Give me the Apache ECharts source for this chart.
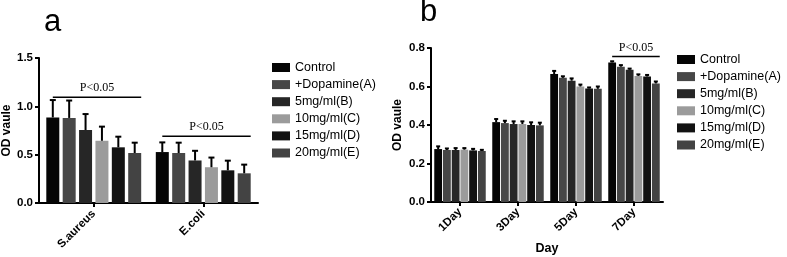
<!DOCTYPE html>
<html>
<head>
<meta charset="utf-8">
<script src="https://cdn.jsdelivr.net/npm/echarts@6/dist/echarts.min.js"></script>
<style>
  html, body { margin: 0; padding: 0; background: #fff; }
  #chart { width: 787px; height: 257px; }
</style>
</head>
<body>
<div id="chart"></div>
<script>
// groups (legend)
const groupNames = ['Control', '+Dopamine(A)', '5mg/ml(B)', '10mg/ml(C)', '15mg/ml(D)', '20mg/ml(E)'];
const groupColors = ['#050505', '#474747', '#262626', '#9b9b9b', '#121212', '#434343'];

// panel a
const bacteria = ['S.aureus', 'E.coli'];
const odA = [
  [0.885, 0.527],
  [0.880, 0.517],
  [0.755, 0.440],
  [0.644, 0.370],
  [0.576, 0.338],
  [0.517, 0.307]
];
const errA = [
  [0.180, 0.100],
  [0.180, 0.107],
  [0.165, 0.100],
  [0.146, 0.100],
  [0.110, 0.100],
  [0.107, 0.090]
];
const sigA = [[0, 1.093], [1, 0.69]];
const ticksA = [0, 0.5, 1.0, 1.5];

// panel b
const days = ['1Day', '3Day', '5Day', '7Day'];
const odB = [
  [0.275, 0.415, 0.665, 0.725],
  [0.270, 0.410, 0.645, 0.703],
  [0.270, 0.405, 0.630, 0.687],
  [0.272, 0.405, 0.600, 0.655],
  [0.268, 0.400, 0.590, 0.652],
  [0.265, 0.398, 0.588, 0.616]
];
const errB = [
  [0.014, 0.016, 0.016, 0.006],
  [0.008, 0.012, 0.008, 0.008],
  [0.010, 0.014, 0.012, 0.006],
  [0.008, 0.014, 0.010, 0.008],
  [0.008, 0.014, 0.005, 0.008],
  [0.006, 0.014, 0.012, 0.010]
];
const sigB = [[3, 0.756]];
const ticksB = [0, 0.2, 0.4, 0.6, 0.8];

const FONT = '"Liberation Sans", Arial, sans-serif';
const SERIF = '"Liberation Serif", "Times New Roman", serif';

const barA = { width: 13, gap: 0.26, cap: 6 };
const barB = { width: 7.8, gap: 0.12, cap: 4 };

function groupLayout(cfg) {
  const n = groupNames.length;
  const step = cfg.width * (1 + cfg.gap);
  const total = n * cfg.width + (n - 1) * cfg.width * cfg.gap;
  return { step: step, start: -total / 2 + cfg.width / 2, end: total / 2 - cfg.width / 2 };
}

// error bars (upper only)
function errorRenderer(cfg) {
  const lay = groupLayout(cfg);
  return function (params, api) {
    const cat = api.value(0), g = api.value(1), v = api.value(2), e = api.value(3);
    const base = api.coord([cat, v]);
    const top = api.coord([cat, v + e]);
    const x = base[0] + lay.start + g * lay.step;
    return {
      type: 'group',
      children: [
        { type: 'line', shape: { x1: x, y1: base[1], x2: x, y2: top[1] }, style: { stroke: '#000', lineWidth: 2 } },
        { type: 'line', shape: { x1: x - cfg.cap / 2, y1: top[1], x2: x + cfg.cap / 2, y2: top[1] }, style: { stroke: '#000', lineWidth: 2 } }
      ]
    };
  };
}

// P<0.05 brackets
function sigRenderer(cfg) {
  const lay = groupLayout(cfg);
  return function (params, api) {
    const p = api.coord([api.value(0), api.value(1)]);
    const x1 = p[0] + lay.start, x2 = p[0] + lay.end + cfg.width / 2;
    return {
      type: 'group',
      children: [
        { type: 'line', shape: { x1: x1, y1: p[1], x2: x2, y2: p[1] }, style: { stroke: '#000', lineWidth: 1.5 } },
        { type: 'text', style: { x: (x1 + x2) / 2, y: p[1] - 3, text: 'P<0.05', fill: '#000', font: '12px ' + SERIF, textAlign: 'center', textVerticalAlign: 'bottom' } }
      ]
    };
  };
}

function errRows(od, err) {
  const rows = [];
  od.forEach(function (vals, g) {
    vals.forEach(function (v, c) { rows.push([c, g, v, err[g][c]]); });
  });
  return rows;
}

const axisStyle = { lineStyle: { color: '#000', width: 2 } };
const tickStyle = { show: true, length: 4, lineStyle: { color: '#000', width: 2 } };
const labelStyle = { color: '#000', fontFamily: FONT, fontWeight: 'bold', fontSize: 11.5 };

const series = [];
groupNames.forEach(function (name, g) {
  series.push({
    name: name, type: 'bar', xAxisIndex: 0, yAxisIndex: 0,
    barWidth: barA.width, barGap: (barA.gap * 100) + '%',
    itemStyle: { color: groupColors[g] }, data: odA[g]
  });
});
groupNames.forEach(function (name, g) {
  series.push({
    name: name, type: 'bar', xAxisIndex: 1, yAxisIndex: 1,
    barWidth: barB.width, barGap: (barB.gap * 100) + '%',
    itemStyle: { color: groupColors[g] }, data: odB[g]
  });
});
series.push({
  type: 'custom', xAxisIndex: 0, yAxisIndex: 0, z: 5,
  renderItem: errorRenderer(barA), encode: { x: 0, y: 2 }, data: errRows(odA, errA)
});
series.push({
  type: 'custom', xAxisIndex: 1, yAxisIndex: 1, z: 5,
  renderItem: errorRenderer(barB), encode: { x: 0, y: 2 }, data: errRows(odB, errB)
});
series.push({
  type: 'custom', xAxisIndex: 0, yAxisIndex: 0, z: 5,
  renderItem: sigRenderer(barA), encode: { x: 0, y: 1 }, data: sigA
});
series.push({
  type: 'custom', xAxisIndex: 1, yAxisIndex: 1, z: 5,
  renderItem: sigRenderer(barB), encode: { x: 0, y: 1 }, data: sigB
});

const legendBase = {
  orient: 'vertical', icon: 'rect', itemWidth: 18, itemHeight: 9, itemGap: 4.1,
  textStyle: { color: '#000', fontFamily: FONT, fontSize: 12.5 },
  selectedMode: false, data: groupNames, padding: 0
};

const chart = echarts.init(document.getElementById('chart'));
chart.setOption({
  animation: false,
  backgroundColor: '#fff',
  title: [
    { text: 'a', left: 44, top: 7, padding: 0, textStyle: { fontSize: 31, fontWeight: 'normal', color: '#000', fontFamily: FONT } },
    { text: 'b', left: 420, top: -3, padding: 0, textStyle: { fontSize: 31, fontWeight: 'normal', color: '#000', fontFamily: FONT } }
  ],
  legend: [
    Object.assign({}, legendBase, { left: 272, top: 61 }),
    Object.assign({}, legendBase, { left: 677, top: 53 })
  ],
  grid: [
    { left: 39, top: 58, width: 219, height: 145, outerBoundsMode: 'none' },
    { left: 431, top: 48, width: 232, height: 154, outerBoundsMode: 'none' }
  ],
  xAxis: [
    {
      type: 'category', gridIndex: 0, data: bacteria,
      axisLine: axisStyle, axisTick: Object.assign({ alignWithLabel: true }, tickStyle),
      axisLabel: Object.assign({ rotate: 45, margin: 9 }, labelStyle)
    },
    {
      type: 'category', gridIndex: 1, data: days,
      name: 'Day', nameLocation: 'middle', nameGap: 40,
      nameTextStyle: { color: '#000', fontFamily: FONT, fontWeight: 'bold', fontSize: 12.5 },
      axisLine: axisStyle, axisTick: Object.assign({ alignWithLabel: true }, tickStyle),
      axisLabel: Object.assign({ rotate: 45, margin: 8 }, labelStyle)
    }
  ],
  yAxis: [
    {
      type: 'value', gridIndex: 0, min: ticksA[0], max: ticksA[ticksA.length - 1], interval: 0.5,
      name: 'OD vaule', nameLocation: 'middle', nameGap: 25,
      nameTextStyle: { color: '#000', fontFamily: FONT, fontWeight: 'bold', fontSize: 12 },
      axisLine: Object.assign({ show: true }, axisStyle), axisTick: tickStyle, splitLine: { show: false },
      axisLabel: Object.assign({ margin: 6, formatter: function (v) { return v.toFixed(1); } }, labelStyle)
    },
    {
      type: 'value', gridIndex: 1, min: ticksB[0], max: ticksB[ticksB.length - 1], interval: 0.2,
      name: 'OD vaule', nameLocation: 'middle', nameGap: 27,
      nameTextStyle: { color: '#000', fontFamily: FONT, fontWeight: 'bold', fontSize: 12 },
      axisLine: Object.assign({ show: true }, axisStyle), axisTick: tickStyle, splitLine: { show: false },
      axisLabel: Object.assign({ margin: 6, formatter: function (v) { return v.toFixed(1); } }, labelStyle)
    }
  ],
  series: series
});
</script>
</body>
</html>
